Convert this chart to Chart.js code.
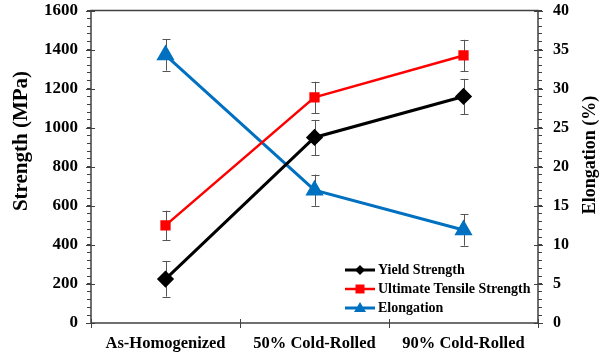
<!DOCTYPE html>
<html>
<head>
<meta charset="utf-8">
<script src="https://cdn.jsdelivr.net/npm/chart.js@4.4.1/dist/chart.umd.min.js"></script>
<style>
  html, body { margin: 0; padding: 0; background: #fff; }
  #wrap { width: 610px; height: 355px; }
</style>
</head>
<body>
<div id="wrap"><canvas id="c" width="610" height="355"></canvas></div>
<script>
const categories = ['As-Homogenized', '50% Cold-Rolled', '90% Cold-Rolled'];
const yieldStrength = [225, 950, 1160];
const yieldErr = [90, 90, 90];
const utsStrength = [500, 1155, 1370];
const utsErr = [75, 80, 80];
const elongation = [34.3, 17.0, 11.9];
const elongErr = [2.0, 2.0, 2.0];
const seriesNames = ['Yield Strength', 'Ultimate Tensile Strength', 'Elongation'];
const axisTitles = ['Strength (MPa)', 'Elongation (%)'];
const strengthTicks = { min: 0, max: 1600, major: 200, minor: 40 };
const elongTicks = { min: 0, max: 40, major: 5, minor: 1 };

const AXIS = '#404040';
const FONT = '"Liberation Serif", "Times New Roman", serif';

const errorBars = {
  id: 'errorBars',
  beforeDatasetsDraw(chart) {
    const ctx = chart.ctx;
    ctx.save();
    ctx.strokeStyle = '#555555';
    ctx.lineWidth = 1;
    chart.data.datasets.forEach((ds, di) => {
      const meta = chart.getDatasetMeta(di);
      const ys = chart.scales[ds.yAxisID];
      meta.data.forEach((pt, i) => {
        const v = ds.data[i], e = ds.errors[i];
        const x = Math.round(pt.x) + 0.5;
        const y1 = ys.getPixelForValue(v + e), y2 = ys.getPixelForValue(v - e);
        ctx.beginPath();
        ctx.moveTo(x, y1); ctx.lineTo(x, y2);
        ctx.moveTo(x - 4, Math.round(y1) + 0.5); ctx.lineTo(x + 4, Math.round(y1) + 0.5);
        ctx.moveTo(x - 4, Math.round(y2) + 0.5); ctx.lineTo(x + 4, Math.round(y2) + 0.5);
        ctx.stroke();
      });
    });
    ctx.restore();
  }
};

const axisDecor = {
  id: 'axisDecor',
  afterDraw(chart) {
    const ctx = chart.ctx;
    const a = chart.chartArea;
    ctx.save();
    ctx.strokeStyle = AXIS;
    ctx.lineWidth = 1;
    const yl = chart.scales.y, yr = chart.scales.y1;
    for (let v = strengthTicks.min; v <= strengthTicks.max; v += strengthTicks.major) {
      const py = Math.round(yl.getPixelForValue(v)) + 0.5;
      ctx.beginPath(); ctx.moveTo(a.left - 5, py); ctx.lineTo(a.left + 4, py); ctx.stroke();
    }
    for (let v = elongTicks.min; v <= elongTicks.max; v += elongTicks.major) {
      const py = Math.round(yr.getPixelForValue(v)) + 0.5;
      ctx.beginPath(); ctx.moveTo(a.right - 4, py); ctx.lineTo(a.right + 5, py); ctx.stroke();
    }
    const n = categories.length;
    const w = (a.right - a.left) / n;
    for (let i = 0; i <= n; i++) {
      const px = Math.round(a.left + i * w) + 0.5;
      ctx.beginPath(); ctx.moveTo(px, a.bottom - 4); ctx.lineTo(px, a.bottom + 5); ctx.stroke();
    }
    ctx.lineWidth = 1.5;
    ctx.beginPath();
    ctx.moveTo(a.left, a.top); ctx.lineTo(a.right, a.top);
    ctx.lineTo(a.right, a.bottom); ctx.lineTo(a.left, a.bottom); ctx.closePath();
    ctx.stroke();

    ctx.fillStyle = '#000';
    ctx.textAlign = 'center';
    ctx.textBaseline = 'middle';
    ctx.save();
    ctx.translate(22, 141);
    ctx.rotate(-Math.PI / 2);
    ctx.font = 'bold 21px ' + FONT;
    ctx.fillText(axisTitles[0], 0, 0);
    ctx.restore();
    ctx.save();
    ctx.translate(a.right + 52, 155);
    ctx.rotate(-Math.PI / 2);
    ctx.font = 'bold 18px ' + FONT;
    ctx.fillText(axisTitles[1], 0, 0);
    ctx.restore();
    ctx.restore();
  }
};

const customLegend = {
  id: 'customLegend',
  afterDatasetsDraw(chart) {
    const ctx = chart.ctx;
    const a = chart.chartArea;
    const x0 = a.right - 193, y0 = a.bottom - 53, dy = 19;
    ctx.save();
    chart.data.datasets.forEach((ds, i) => {
      const y = y0 + i * dy;
      ctx.strokeStyle = ds.borderColor;
      ctx.lineWidth = ds.borderWidth;
      ctx.beginPath(); ctx.moveTo(x0, y); ctx.lineTo(x0 + 30, y); ctx.stroke();
      ctx.fillStyle = ds.borderColor;
      const cx = x0 + 15;
      ctx.beginPath();
      if (ds.pointStyle === 'rectRot') {
        const r = 5;
        ctx.moveTo(cx, y - r); ctx.lineTo(cx + r, y); ctx.lineTo(cx, y + r); ctx.lineTo(cx - r, y);
      } else if (ds.pointStyle === 'rect') {
        ctx.rect(cx - 4.5, y - 4.5, 9, 9);
      } else {
        ctx.moveTo(cx, y - 6); ctx.lineTo(cx + 6, y + 4); ctx.lineTo(cx - 6, y + 4);
      }
      ctx.closePath(); ctx.fill();
      ctx.fillStyle = '#000';
      ctx.font = 'bold 14px ' + FONT;
      ctx.textBaseline = 'middle';
      ctx.textAlign = 'left';
      ctx.fillText(ds.label, x0 + 33, y + 0.5);
    });
    ctx.restore();
  }
};

function fixY(width) {
  return function (s) {
    s.width = width;
    s.paddingTop = 0;
    s.paddingBottom = 0;
  };
}

new Chart(document.getElementById('c'), {
  type: 'line',
  data: {
    labels: categories,
    datasets: [
      { label: seriesNames[0], data: yieldStrength, errors: yieldErr, yAxisID: 'y',
        borderColor: '#000000', backgroundColor: '#000000', borderWidth: 3,
        pointStyle: 'rectRot', pointRadius: 6.5, pointHoverRadius: 6.5 },
      { label: seriesNames[1], data: utsStrength, errors: utsErr, yAxisID: 'y',
        borderColor: '#ff0000', backgroundColor: '#ff0000', borderWidth: 2.5,
        pointStyle: 'rect', pointRadius: 5.5, pointHoverRadius: 5.5 },
      { label: seriesNames[2], data: elongation, errors: elongErr, yAxisID: 'y1',
        borderColor: '#0070c0', backgroundColor: '#0070c0', borderWidth: 3,
        pointStyle: 'triangle', pointRadius: 7.5, pointHoverRadius: 7.5 }
    ]
  },
  options: {
    responsive: false,
    animation: false,
    layout: { padding: { top: 10, right: 0, left: 0, bottom: 0 } },
    plugins: { legend: { display: false }, tooltip: { enabled: false } },
    elements: { line: { tension: 0 } },
    scales: {
      x: {
        offset: true,
        grid: { display: false, drawTicks: false },
        border: { display: false },
        ticks: { color: '#000', font: { family: FONT, size: 16.5, weight: 'bold' }, padding: 11, maxRotation: 0 },
        afterFit(s) { s.height = 32; s.paddingLeft = 0; s.paddingRight = 0; }
      },
      y: {
        position: 'left',
        min: strengthTicks.min, max: strengthTicks.max,
        grid: { drawOnChartArea: false, tickLength: 4, color: AXIS },
        border: { display: false },
        ticks: {
          stepSize: strengthTicks.minor, autoSkip: false, padding: 9,
          color: '#000', font: { family: FONT, size: 17, weight: 'bold' },
          callback: (v) => (v % strengthTicks.major === 0 ? v : '')
        },
        afterFit: fixY(91)
      },
      y1: {
        position: 'right',
        min: elongTicks.min, max: elongTicks.max,
        grid: { drawOnChartArea: false, tickLength: 4, color: AXIS },
        border: { display: false },
        ticks: {
          stepSize: elongTicks.minor, autoSkip: false, padding: 11,
          color: '#000', font: { family: FONT, size: 16, weight: 'bold' },
          callback: (v) => (v % elongTicks.major === 0 ? v : '')
        },
        afterFit: fixY(72)
      }
    }
  },
  plugins: [errorBars, axisDecor, customLegend]
});
</script>
</body>
</html>
